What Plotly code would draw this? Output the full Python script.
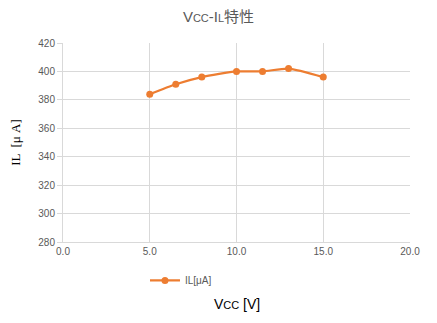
import plotly.graph_objects as go

vcc = [5.0, 6.5, 8.0, 10.0, 11.5, 13.0, 15.0]
il = [384, 391, 396, 400, 400, 402, 396]
x_ticks = [0, 5, 10, 15, 20]
x_labels = ["0.0", "5.0", "10.0", "15.0", "20.0"]
y_ticks = [280, 300, 320, 340, 360, 380, 400, 420]

orange = "#ED7D31"
fig = go.Figure()
fig.add_trace(go.Scatter(
    x=vcc, y=il, mode="lines+markers", name="IL[μA]",
    line=dict(color=orange, width=2.25, shape="spline", smoothing=0.6),
    marker=dict(color=orange, size=7),
))
fig.update_layout(
    width=437, height=323,
    margin=dict(l=63, r=27, t=43, b=81),
    paper_bgcolor="white", plot_bgcolor="white",
    font=dict(family="Liberation Sans, Arial, sans-serif", color="#595959", size=10),
    title=dict(text="V<span style='font-size:11px'>CC</span>-I<span style='font-size:11px'>L</span>特性",
               x=0.5, xanchor="center", y=0.965, yanchor="top",
               font=dict(size=15, color="#595959", family="Liberation Sans, Noto Sans CJK JP, sans-serif")),
    xaxis=dict(range=[0, 20], tickvals=x_ticks, ticktext=x_labels,
               showgrid=True, gridcolor="#D9D9D9", gridwidth=1,
               zeroline=False, showline=True, linecolor="#D9D9D9",
               ticks="", tickfont=dict(size=10, color="#595959")),
    yaxis=dict(range=[280, 420], tickvals=y_ticks,
               showgrid=True, gridcolor="#D9D9D9", gridwidth=1,
               zeroline=False, showline=True, linecolor="#D9D9D9",
               ticks="outside", ticklen=5, tickcolor="#D9D9D9",
               tickfont=dict(size=10, color="#595959"),
               title=dict(text="IL  [μ A]", standoff=14,
                          font=dict(size=13, color="#000000",
                                    family="Liberation Serif, Noto Sans CJK JP, serif"))),
    showlegend=True,
    legend=dict(orientation="h", x=0.34, xanchor="center", y=-0.12, yanchor="top",
                font=dict(size=10, color="#595959"), bgcolor="rgba(0,0,0,0)"),
    annotations=[dict(text="V<span style='font-size:11px'>CC</span> [V]",
                      xref="paper", yref="paper", x=0.5, y=-0.31,
                      xanchor="center", yanchor="middle", showarrow=False,
                      font=dict(size=14, color="#000000"))],
)
fig.write_html("out.html")
